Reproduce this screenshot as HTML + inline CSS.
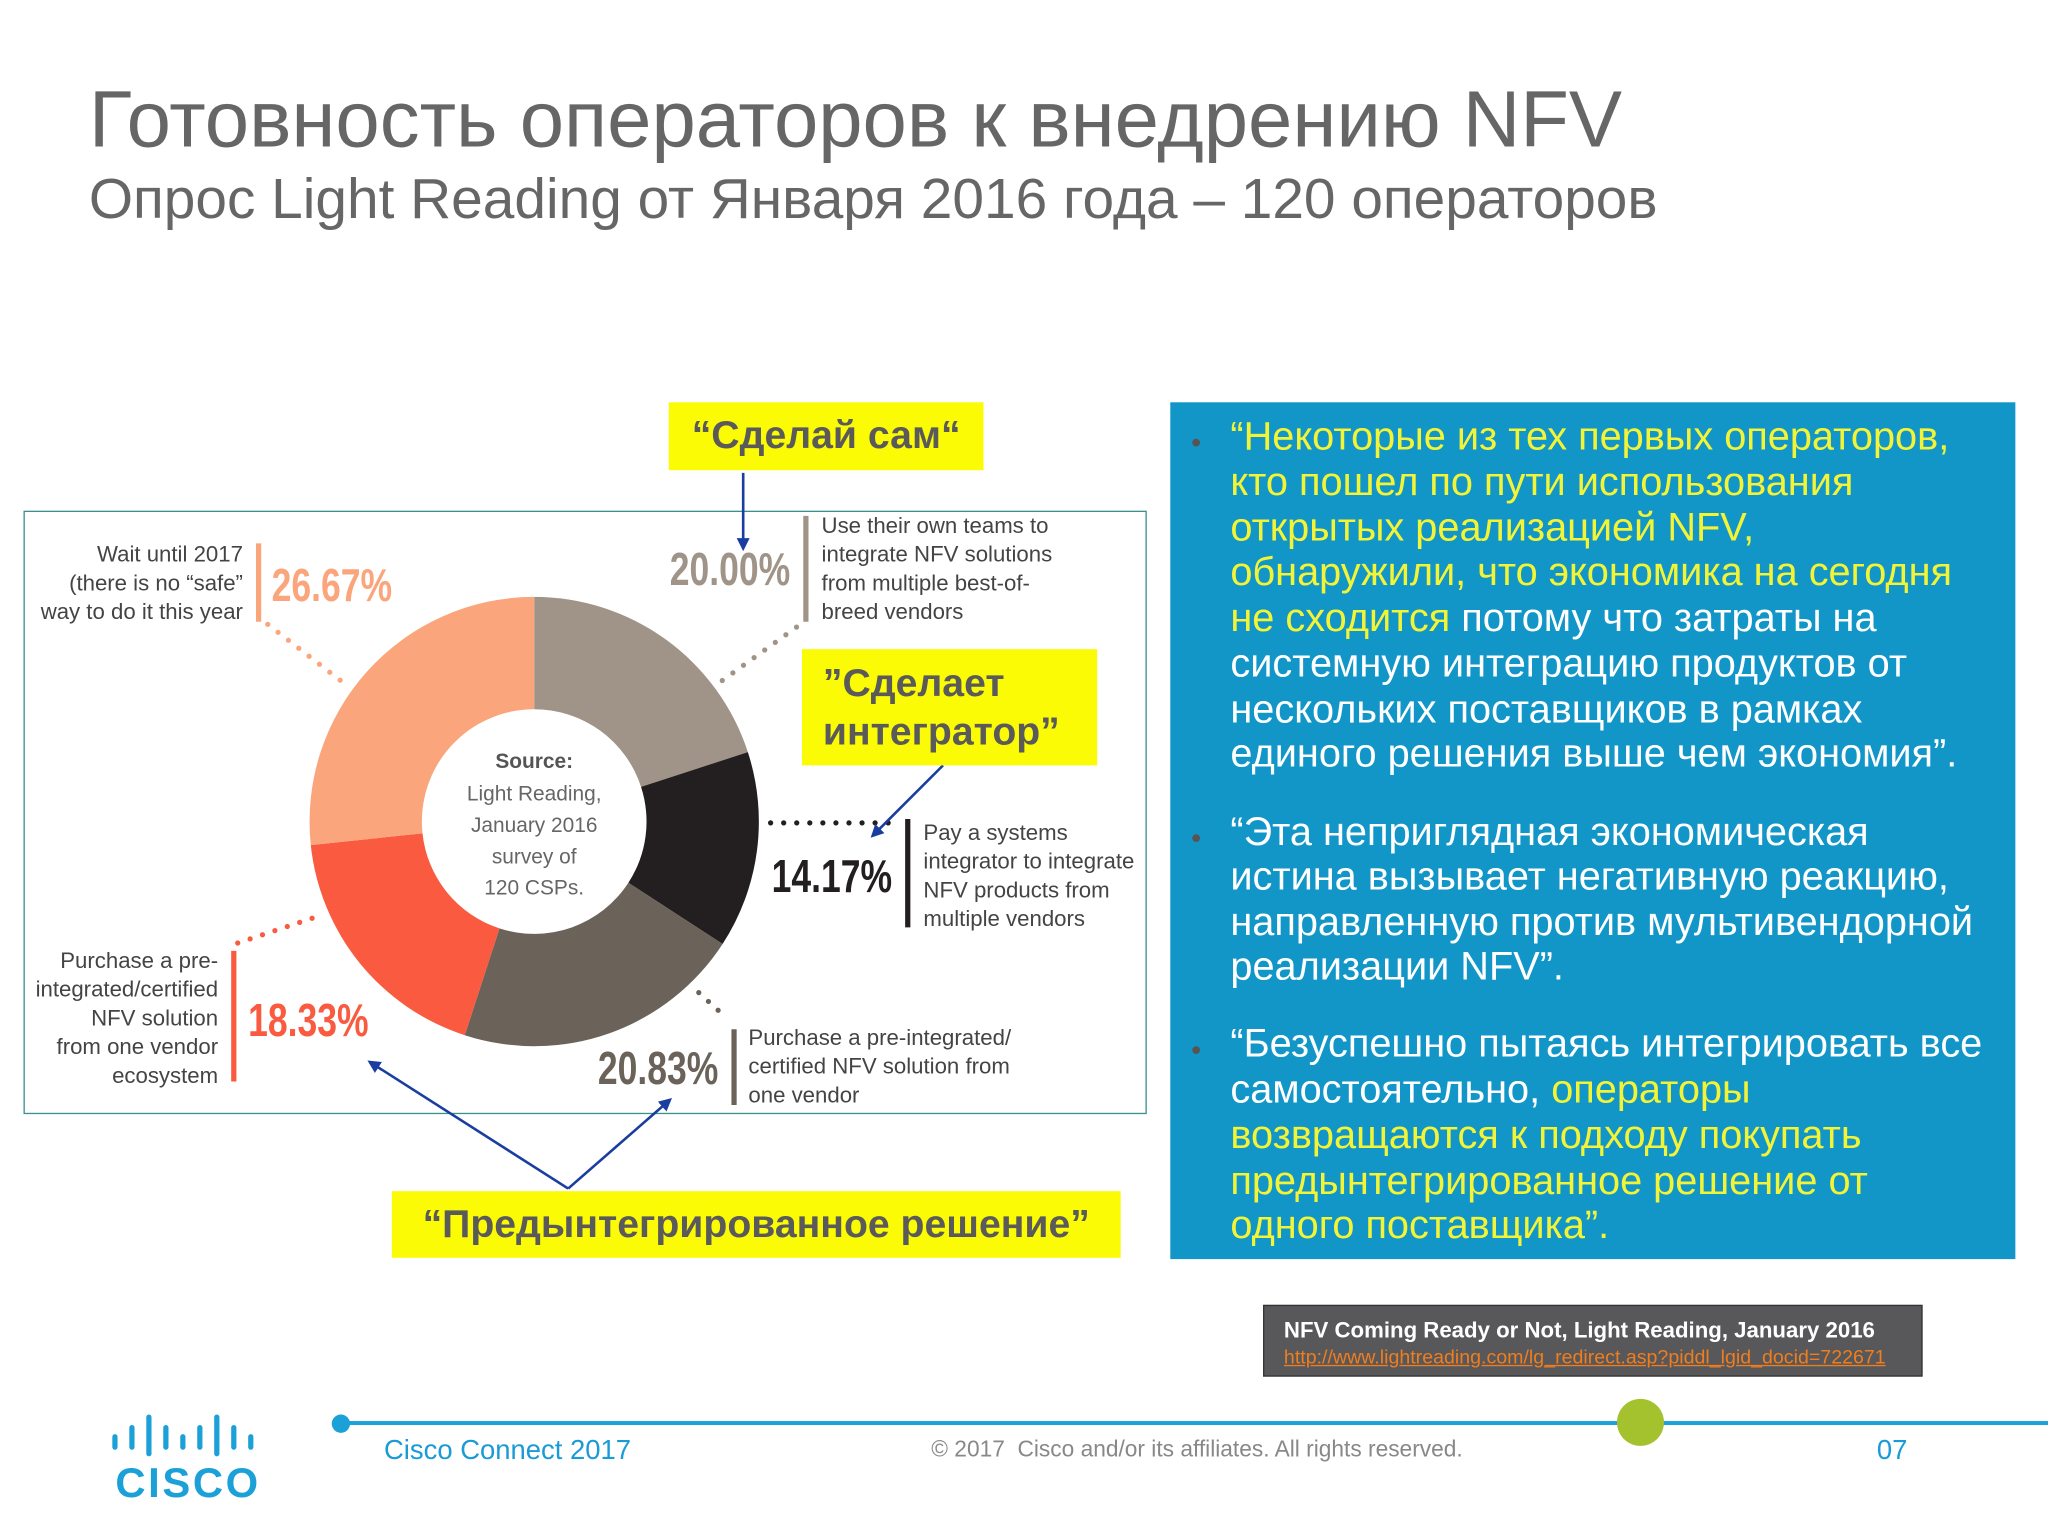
<!DOCTYPE html>
<html><head><meta charset="utf-8"><style>
body{margin:0;width:2048px;height:1536px;overflow:hidden;background:#fff}
#s{position:absolute;left:0;top:0;width:1568px;height:1176px;transform:scale(1.306122);transform-origin:0 0;font-family:"Liberation Sans",sans-serif}
.t{position:absolute;white-space:nowrap}
.yb{position:absolute;background:#fbfb06;color:#5a5a5a;font-weight:bold;font-size:30px}
.bp{position:absolute;left:896px;top:308px;width:647px;height:656px;background:#1296c8}
.bp .l{position:absolute;left:46px;font-size:30.4px;color:#fff;white-space:nowrap;line-height:34px}
.bp .y{color:#f4f436}
.bu{position:absolute;left:16px;font-size:22px;color:#555}
</style></head><body>
<div id="s">
<div class="t" style="left:68px;top:58px;font-size:61px;color:#666;line-height:66px">Готовность операторов к внедрению NFV</div>
<div class="t" style="left:68px;top:129px;font-size:43.5px;color:#666;line-height:48px">Опрос Light Reading от Января 2016 года – 120 операторов</div>

<div style="position:absolute;left:18px;top:391px;width:858px;height:460px;border:1.5px solid #3a8f8f"></div>
<svg id="chart" width="1568" height="1176" style="position:absolute;left:0;top:0"></svg>

<div class="yb" style="left:512px;top:308px;width:241px;height:52px;line-height:52px;text-align:center">“Сделай сам“</div>
<div class="yb" style="left:614px;top:497px;width:226px;height:89px;line-height:37px;padding-left:16px;box-sizing:border-box;padding-top:8px">”Сделает<br>интегратор”</div>
<div class="yb" style="left:300px;top:912px;width:558px;height:51px;line-height:51px;text-align:center">“Предынтегрированное решение”</div>

<div class="bp">
<span class="bu" style="top:18px">•</span>
<div class="l y" style="top:9px">“Некоторые из тех первых операторов,</div>
<div class="l y" style="top:44px">кто пошел по пути использования</div>
<div class="l y" style="top:79px">открытых реализацией NFV,</div>
<div class="l y" style="top:113px">обнаружили, что экономика на сегодня</div>
<div class="l" style="top:148px"><span class="y">не сходится</span> потому что затраты на</div>
<div class="l" style="top:183px">системную интеграцию продуктов от</div>
<div class="l" style="top:218px">нескольких поставщиков в рамках</div>
<div class="l" style="top:252px">единого решения выше чем экономия”.</div>
<span class="bu" style="top:321px">•</span>
<div class="l" style="top:312px">“Эта неприглядная экономическая</div>
<div class="l" style="top:346px">истина вызывает негативную реакцию,</div>
<div class="l" style="top:381px">направленную против мультивендорной</div>
<div class="l" style="top:415px">реализации NFV”.</div>
<span class="bu" style="top:483px">•</span>
<div class="l" style="top:474px">“Безуспешно пытаясь интегрировать все</div>
<div class="l" style="top:509px">самостоятельно, <span class="y">операторы</span></div>
<div class="l y" style="top:544px">возвращаются к подходу покупать</div>
<div class="l y" style="top:579px">предынтегрированное решение от</div>
<div class="l y" style="top:613px">одного поставщика”.</div>
</div>

<div style="position:absolute;left:967px;top:999px;width:503px;height:53px;background:#58585a;border:1.5px solid #333">
<div class="t" style="left:15px;top:9px;font-size:17px;font-weight:bold;color:#fff">NFV Coming Ready or Not, Light Reading, January 2016</div>
<div class="t" style="left:15px;top:31px;font-size:15px;color:#f07d1e;text-decoration:underline">http://www.lightreading.com/lg_redirect.asp?piddl_lgid_docid=722671</div>
</div>

<div style="position:absolute;left:261px;top:1088px;width:1307px;height:3px;background:#1ba0d7"></div>
<div style="position:absolute;left:254px;top:1083px;width:14px;height:14px;border-radius:50%;background:#1ba0d7"></div>
<div style="position:absolute;left:1238px;top:1071px;width:36px;height:36px;border-radius:50%;background:#a4c12e"></div>
<div class="t" style="left:294px;top:1099px;font-size:21px;color:#1a9ad6">Cisco Connect 2017</div>
<div class="t" style="left:713px;top:1099px;font-size:17.4px;color:#888">© 2017&nbsp; Cisco and/or its affiliates. All rights reserved.</div>
<div class="t" style="left:1437px;top:1099px;font-size:21px;color:#1a9ad6">07</div>
<svg width="130" height="70" style="position:absolute;left:82px;top:1080px">
<g stroke="#1ba0d7" stroke-width="4" stroke-linecap="round">
<line x1="6" y1="20" x2="6" y2="28"/><line x1="19" y1="13" x2="19" y2="28"/><line x1="32" y1="5" x2="32" y2="33"/><line x1="45" y1="13" x2="45" y2="28"/><line x1="58" y1="20" x2="58" y2="28"/><line x1="71" y1="13" x2="71" y2="28"/><line x1="84" y1="5" x2="84" y2="33"/><line x1="97" y1="13" x2="97" y2="28"/><line x1="110" y1="20" x2="110" y2="28"/></g>
<text x="62" y="66" text-anchor="middle" font-family="Liberation Sans" font-weight="bold" font-size="32" fill="#1ba0d7" letter-spacing="2">CISCO</text>
</svg>
</div>
<script>
const categories=["Use their own teams","Pay a systems integrator","Purchase pre-integrated/certified from one vendor","Purchase pre-integrated ecosystem","Wait until 2017"];
const values=[20.00,14.17,20.83,18.33,26.67];
const valueLabels=["20.00%","14.17%","20.83%","18.33%","26.67%"];
const colors=["#a09488","#231f20","#6b635a","#f95a40","#fba57c"];
const svg=document.getElementById('chart');
const NS="http://www.w3.org/2000/svg";
const cx=409,cy=629,R=172,r=86;
const total=values.reduce((a,b)=>a+b,0);
function pt(a,rad){return [cx+rad*Math.sin(a),cy-rad*Math.cos(a)];}
let acc=0;
values.forEach((v,i)=>{
  const a0=acc/total*2*Math.PI;acc+=v;const a1=acc/total*2*Math.PI;
  const lg=(a1-a0)>Math.PI?1:0;
  const p1=pt(a0,R),p2=pt(a1,R),p3=pt(a1,r),p4=pt(a0,r);
  const p=document.createElementNS(NS,'path');
  p.setAttribute('d',`M${p1}A${R},${R} 0 ${lg} 1 ${p2}L${p3}A${r},${r} 0 ${lg} 0 ${p4}Z`);
  p.setAttribute('fill',colors[i]);
  
  
  svg.appendChild(p);
});
function add(tag,attrs,txt){const e=document.createElementNS(NS,tag);for(const k in attrs)e.setAttribute(k,attrs[k]);if(txt)e.textContent=txt;svg.appendChild(e);return e;}
const F='"Liberation Sans",sans-serif';
["Light Reading,","January 2016","survey of","120 CSPs."].forEach((s,i)=>{const e=add('text',{x:409,y:613+i*24,'text-anchor':'middle','font-family':F,'font-size':16,fill:'#666'},s);});
const st=add('text',{x:409,y:588,'text-anchor':'middle','font-family':F,'font-size':16,'font-weight':'bold',fill:'#555'},'Source:');

const callouts=[
 [605,448,'end',617,395,476,629,'start',408,["Use their own teams to","integrate NFV solutions","from multiple best-of-","breed vendors"],[553,521,610,480]],
 [683,683,'end',695,627,710,707,'start',643,["Pay a systems","integrator to integrate","NFV products from","multiple vendors"],[590,630,682,630]],
 [550,830,'end',562,788,846,573,'start',800,["Purchase a pre-integrated/","certified NFV solution from","one vendor"],[535,760,557,780]],
 [190,793,'start',179,728,828,167,'end',741,["Purchase a pre-","integrated/certified","NFV solution","from one vendor","ecosystem"],[182,722,242,702]],
 [208,460,'start',198,416,476,186,'end',430,["Wait until 2017","(there is no “safe”","way to do it this year"],[205,478,262,522]]
];
callouts.forEach((c,i)=>{
  const [vx,vy,va,bx,by1,by2,tx,ta,ty,lines,d]=c;
  const v=add('text',{x:0,y:0,transform:`translate(${vx},${vy}) scale(0.8,1.05)`,'text-anchor':va,'font-family':F,'font-size':34,'font-weight':'bold',fill:colors[i]},valueLabels[i]);
  
  const b=add('line',{x1:bx,y1:by1,x2:bx,y2:by2,stroke:colors[i],'stroke-width':4});
  
  lines.forEach((s,j)=>{const t=add('text',{x:tx,y:ty+j*22,'text-anchor':ta,'font-family':F,'font-size':17,fill:'#444'},s);});
  const dl=add('line',{x1:d[0],y1:d[1],x2:d[2],y2:d[3],stroke:colors[i],'stroke-width':4,'stroke-linecap':'round','stroke-dasharray':'0 10'});
  
});
add('defs',{}).innerHTML='<marker id="ah" markerWidth="10" markerHeight="10" refX="8" refY="5" orient="auto" markerUnits="userSpaceOnUse"><path d="M0,0L10,5L0,10Z" fill="#1a3ea0"/></marker>';
[[569,362,569,420],[722,586,668,640],[435,910,283,813],[435,910,513,842]].forEach(a=>{
  const l=add('line',{x1:a[0],y1:a[1],x2:a[2],y2:a[3],stroke:'#1a3ea0','stroke-width':2,'marker-end':'url(#ah)'});
  
});
</script>
</body></html>
